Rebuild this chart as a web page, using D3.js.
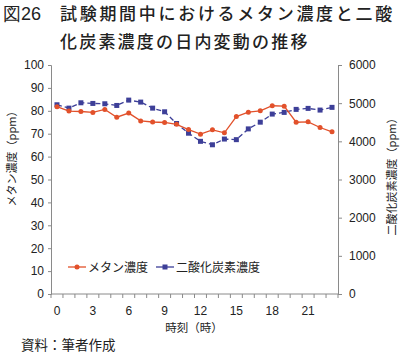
<!DOCTYPE html>
<html>
<head>
<meta charset="utf-8">
<script src="https://cdn.jsdelivr.net/npm/d3@7"></script>
<style>
  body { margin: 0; background: #fff; }
  svg { display: block; }
</style>
</head>
<body>
<div id="container"></div>
<script>
let w = 400;
let h = 354;

let hours = d3.range(0, 24);
let methane = [81.8, 79.9, 79.7, 79.3, 80.6, 77.2, 79.0, 75.6, 75.1, 74.9, 74.1, 71.8,
  69.8, 71.7, 70.4, 77.5, 79.4, 80.0, 82.2, 82.0, 75.0, 75.2, 72.7, 70.8];
let co2 = [4958, 4870, 5010, 4993, 4984, 4940, 5080, 5028, 4870, 4774, 4467, 4213,
  4000, 3910, 4060, 4044, 4326, 4502, 4714, 4758, 4837, 4863, 4819, 4890];
let leftTicks = [0, 10, 20, 30, 40, 50, 60, 70, 80, 90, 100];
let rightTicks = [0, 1000, 2000, 3000, 4000, 5000, 6000];
let xLabels = [0, 3, 6, 9, 12, 15, 18, 21];

let plotLeft = 51, plotRight = 338, plotTop = 65, plotBottom = 294;
let red = "#e2512b", blue = "#3d3f98", axisColor = "#8a8a8a";
let jp = "'Noto Sans CJK JP', sans-serif";
let num = "'Liberation Sans', Arial, sans-serif";

let svg = d3.select("#container").append("svg")
  .attr("width", w)
  .attr("height", h);

// title
let title = svg.append("text")
  .attr("font-family", jp)
  .attr("font-size", 17)
  .attr("font-weight", 500)
  .attr("fill", "#222");
title.append("tspan").attr("x", 3).attr("y", 20).attr("font-family", num).attr("font-size", 18).text("図26");
title.append("tspan").attr("x", 60).attr("y", 20).attr("letter-spacing", 2.7).text("試験期間中におけるメタン濃度と二酸");
title.append("tspan").attr("x", 60).attr("y", 48).attr("letter-spacing", 2.2).text("化炭素濃度の日内変動の推移");

let x = d3.scaleBand().domain(hours).range([plotLeft, plotRight]);
let yL = d3.scaleLinear().domain([0, 100]).range([plotBottom, plotTop]);
let yR = d3.scaleLinear().domain([0, 6000]).range([plotBottom, plotTop]);

// left axis
let gl = svg.append("g")
  .attr("transform", `translate(${plotLeft},0)`)
  .call(d3.axisLeft(yL).tickValues(leftTicks).tickSize(3).tickPadding(4));
// right axis
let gr = svg.append("g")
  .attr("transform", `translate(${plotRight},0)`)
  .call(d3.axisRight(yR).tickValues(rightTicks).tickFormat(d3.format("d")).tickSize(4).tickPadding(7));

[gl, gr].forEach(g => {
  g.select(".domain").attr("stroke", axisColor);
  g.selectAll(".tick line").attr("stroke", axisColor);
  g.selectAll("text").attr("font-family", num).attr("font-size", 12).attr("fill", "#222");
});

// x axis: ticks at category boundaries, labels every 3 hours
let gx = svg.append("g").attr("transform", `translate(0,${plotBottom})`);
gx.append("line").attr("x1", plotLeft).attr("x2", plotRight).attr("stroke", axisColor);
gx.selectAll(".xt").data(hours.concat([24])).enter().append("line")
  .attr("x1", d => d < 24 ? x(d) : plotRight)
  .attr("x2", d => d < 24 ? x(d) : plotRight)
  .attr("y1", 0).attr("y2", 4).attr("stroke", axisColor);
gx.selectAll(".xl").data(xLabels).enter().append("text")
  .attr("x", d => x(d) + x.bandwidth() / 2)
  .attr("y", 21)
  .attr("text-anchor", "middle")
  .attr("font-family", num).attr("font-size", 12).attr("fill", "#222")
  .text(d => d);

// axis titles
svg.append("text")
  .attr("transform", "translate(16,156) rotate(-90)")
  .attr("text-anchor", "middle")
  .attr("font-family", jp).attr("font-size", 11).attr("fill", "#222")
  .text("メタン濃度（ppm）");
svg.append("text")
  .attr("transform", "translate(396,174) rotate(-90)")
  .attr("text-anchor", "middle")
  .attr("font-family", jp).attr("font-size", 11).attr("fill", "#222")
  .text("二酸化炭素濃度（ppm）");
svg.append("text")
  .attr("x", 194).attr("y", 332)
  .attr("text-anchor", "middle")
  .attr("font-family", jp).attr("font-size", 11.5).attr("fill", "#222")
  .text("時刻（時）");

// source
svg.append("text")
  .attr("x", 21).attr("y", 350)
  .attr("font-family", jp).attr("font-size", 13.5).attr("fill", "#222")
  .text("資料：筆者作成");

let cx = d => x(d) + x.bandwidth() / 2;

// CO2 series (dashed, squares)
svg.append("path")
  .datum(hours)
  .attr("fill", "none")
  .attr("stroke", blue)
  .attr("stroke-width", 1.3)
  .attr("stroke-dasharray", "5,3")
  .attr("d", d3.line().x(cx).y(d => yR(co2[d])));
svg.selectAll(".sq").data(hours).enter().append("rect")
  .attr("x", d => cx(d) - 2.5)
  .attr("y", d => yR(co2[d]) - 2.5)
  .attr("width", 5).attr("height", 5)
  .attr("fill", blue);

// methane series (solid, circles)
svg.append("path")
  .datum(hours)
  .attr("fill", "none")
  .attr("stroke", red)
  .attr("stroke-width", 1.3)
  .attr("d", d3.line().x(cx).y(d => yL(methane[d])));
svg.selectAll(".dot").data(hours).enter().append("circle")
  .attr("cx", cx)
  .attr("cy", d => yL(methane[d]))
  .attr("r", 2.5)
  .attr("fill", red);

// legend
let ly = 267;
let legend = [
  { name: "メタン濃度", color: red, shape: "circle", x: 68 },
  { name: "二酸化炭素濃度", color: blue, shape: "square", x: 156 }
];
legend.forEach(l => {
  let g = svg.append("g");
  g.append("line").attr("x1", l.x).attr("x2", l.x + 18).attr("y1", ly).attr("y2", ly)
    .attr("stroke", l.color).attr("stroke-width", 1.3);
  if (l.shape === "circle") {
    g.append("circle").attr("cx", l.x + 9).attr("cy", ly).attr("r", 2.5).attr("fill", l.color);
  } else {
    g.append("rect").attr("x", l.x + 6.5).attr("y", ly - 2.5).attr("width", 5).attr("height", 5).attr("fill", l.color);
  }
  g.append("text").attr("x", l.x + 20).attr("y", ly + 4.5)
    .attr("font-family", jp).attr("font-size", 12).attr("fill", "#222")
    .text(l.name);
});
</script>
</body>
</html>
